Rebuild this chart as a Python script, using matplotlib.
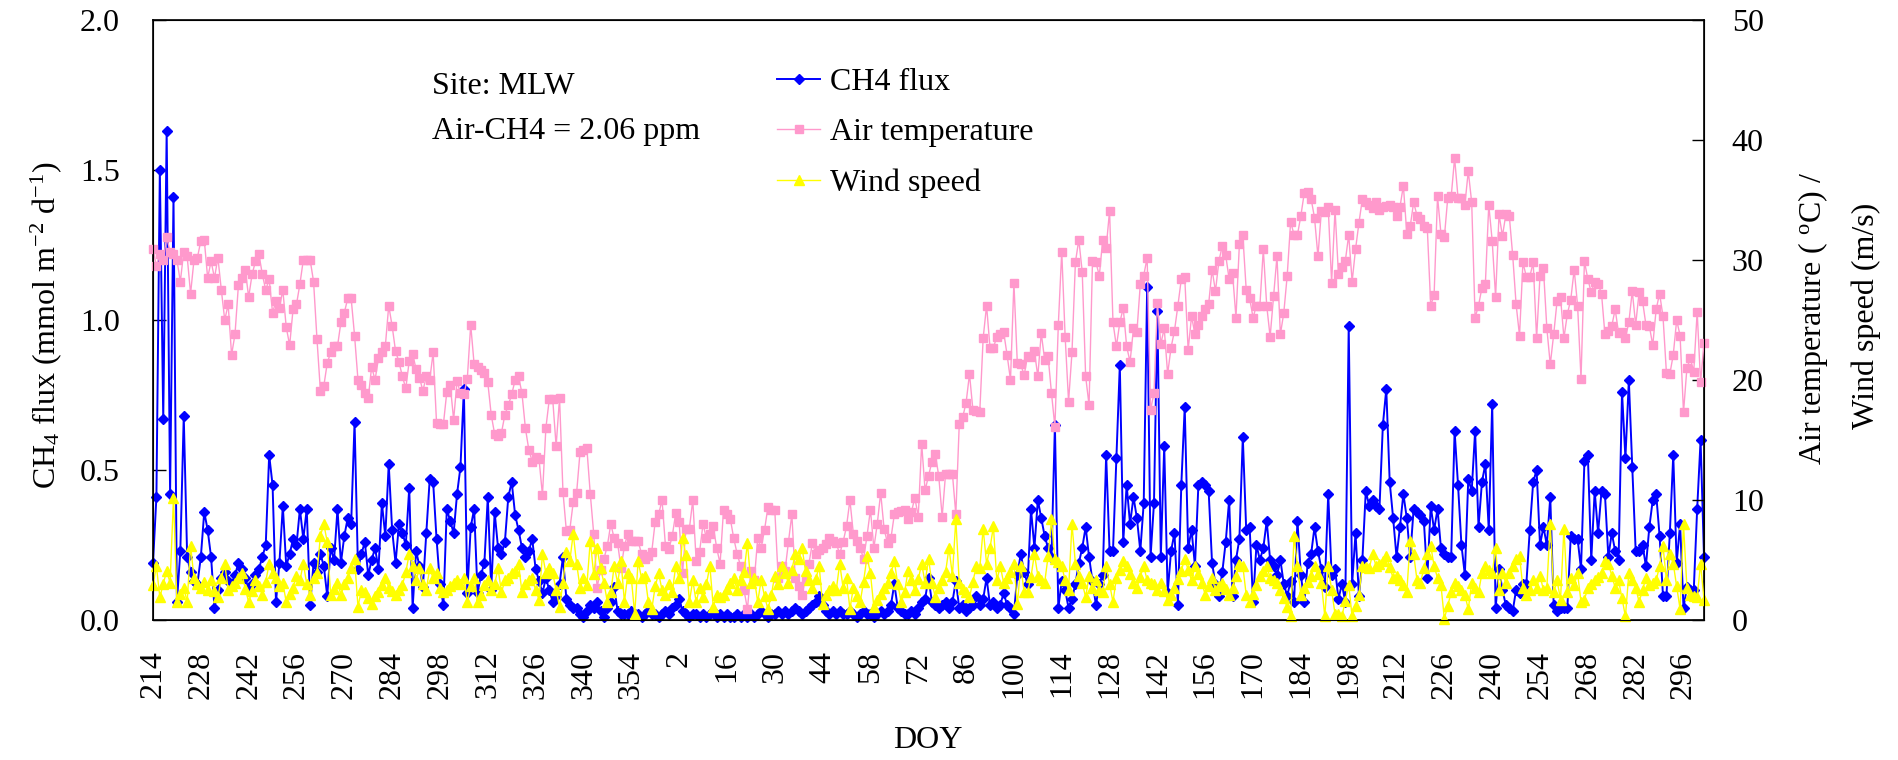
import numpy as np
import matplotlib.pyplot as plt
from matplotlib.lines import Line2D

plt.rcParams['font.family'] = 'Liberation Serif'
plt.rcParams['mathtext.fontset'] = 'custom'
plt.rcParams['mathtext.rm'] = 'Liberation Serif'
plt.rcParams['mathtext.it'] = 'Liberation Serif:italic'

# daily records, DOY 214 of the first year through DOY 302 of the next
doy = list(range(214, 367)) + list(range(1, 303))

# CH4 flux (mmol m-2 d-1)
ch4_flux = [
    0.19, 0.41, 1.50, 0.67, 1.63, 0.42, 1.41, 0.06, 0.23, 0.68, 0.21, 0.16, 0.13, 0.12,
    0.21, 0.36, 0.30, 0.21, 0.04, 0.10, 0.14, 0.16, 0.13, 0.12, 0.15, 0.19, 0.17, 0.14,
    0.10, 0.12, 0.15, 0.17, 0.21, 0.25, 0.55, 0.45, 0.06, 0.19, 0.38, 0.18, 0.22, 0.27,
    0.25, 0.37, 0.27, 0.37, 0.05, 0.19, 0.16, 0.22, 0.18, 0.08, 0.24, 0.20, 0.37, 0.19,
    0.28, 0.34, 0.32, 0.66, 0.17, 0.22, 0.26, 0.15, 0.20, 0.24, 0.17, 0.39, 0.28, 0.52,
    0.30, 0.19, 0.32, 0.29, 0.25, 0.44, 0.04, 0.23, 0.18, 0.11, 0.29, 0.47, 0.46, 0.27,
    0.12, 0.05, 0.37, 0.33, 0.29, 0.42, 0.51, 0.77, 0.09, 0.31, 0.37, 0.09, 0.15, 0.19,
    0.41, 0.10, 0.36, 0.24, 0.22, 0.26, 0.41, 0.46, 0.35, 0.30, 0.24, 0.21, 0.23, 0.27,
    0.17, 0.13, 0.09, 0.14, 0.10, 0.06, 0.08, 0.12, 0.21, 0.07, 0.05, 0.04, 0.04, 0.02,
    0.01, 0.03, 0.05, 0.04, 0.06, 0.03, 0.01, 0.04, 0.06, 0.11, 0.03, 0.02, 0.02, 0.02,
    0.03, 0.02, 0.02, 0.01, 0.02, 0.03, 0.02, 0.02, 0.01, 0.02, 0.03, 0.02, 0.04, 0.05,
    0.07, 0.03, 0.02, 0.01, 0.02, 0.02, 0.01, 0.02, 0.01, 0.02, 0.03, 0.01, 0.02, 0.01,
    0.02, 0.01, 0.01, 0.02, 0.01, 0.02, 0.01, 0.02, 0.01, 0.02, 0.03, 0.02, 0.01, 0.02,
    0.02, 0.03, 0.02, 0.03, 0.02, 0.03, 0.04, 0.03, 0.02, 0.03, 0.04, 0.05, 0.06, 0.08,
    0.05, 0.03, 0.02, 0.03, 0.02, 0.03, 0.02, 0.02, 0.03, 0.02, 0.01, 0.02, 0.03, 0.02,
    0.02, 0.01, 0.02, 0.03, 0.02, 0.03, 0.05, 0.12, 0.04, 0.03, 0.02, 0.02, 0.03, 0.02,
    0.04, 0.06, 0.07, 0.14, 0.06, 0.05, 0.04, 0.05, 0.06, 0.04, 0.06, 0.13, 0.04, 0.05,
    0.03, 0.04, 0.05, 0.08, 0.05, 0.07, 0.14, 0.05, 0.06, 0.04, 0.05, 0.09, 0.05, 0.04,
    0.02, 0.15, 0.22, 0.16, 0.12, 0.37, 0.24, 0.40, 0.34, 0.28, 0.24, 0.21, 0.65, 0.04,
    0.13, 0.10, 0.04, 0.07, 0.12, 0.19, 0.24, 0.31, 0.21, 0.13, 0.05, 0.12, 0.15, 0.55,
    0.23, 0.23, 0.54, 0.85, 0.26, 0.45, 0.32, 0.41, 0.34, 0.23, 0.39, 1.11, 0.21, 0.39,
    1.03, 0.21, 0.58, 0.09, 0.23, 0.29, 0.05, 0.45, 0.71, 0.24, 0.30, 0.18, 0.45, 0.46,
    0.45, 0.43, 0.19, 0.12, 0.08, 0.16, 0.26, 0.40, 0.08, 0.20, 0.27, 0.61, 0.30, 0.31,
    0.06, 0.25, 0.20, 0.24, 0.33, 0.20, 0.18, 0.15, 0.20, 0.12, 0.08, 0.13, 0.06, 0.33,
    0.15, 0.06, 0.19, 0.22, 0.31, 0.23, 0.17, 0.11, 0.42, 0.15, 0.17, 0.07, 0.12, 0.06,
    0.98, 0.12, 0.29, 0.08, 0.20, 0.43, 0.38, 0.40, 0.38, 0.37, 0.65, 0.77, 0.46, 0.34,
    0.21, 0.31, 0.42, 0.34, 0.21, 0.37, 0.36, 0.35, 0.33, 0.14, 0.38, 0.30, 0.37, 0.24,
    0.22, 0.21, 0.21, 0.63, 0.45, 0.25, 0.15, 0.47, 0.43, 0.63, 0.31, 0.46, 0.52, 0.30,
    0.72, 0.04, 0.17, 0.10, 0.05, 0.04, 0.03, 0.10, 0.09, 0.12, 0.12, 0.30, 0.46, 0.50,
    0.25, 0.31, 0.25, 0.41, 0.05, 0.03, 0.04, 0.04, 0.04, 0.28, 0.27, 0.27, 0.17, 0.53,
    0.55, 0.20, 0.43, 0.29, 0.43, 0.42, 0.21, 0.29, 0.23, 0.20, 0.76, 0.54, 0.80, 0.51,
    0.23, 0.23, 0.25, 0.18, 0.31, 0.40, 0.42, 0.28, 0.08, 0.08, 0.29, 0.55, 0.19, 0.32,
    0.04, 0.11, 0.10, 0.10, 0.37, 0.60, 0.21,
]

# air temperature (deg C)
air_temp = [
    30.9, 29.5, 30.5, 30.0, 31.9, 30.7, 30.5, 30.0, 28.2, 30.7, 30.3, 27.2, 30.0, 30.2,
    31.6, 31.7, 28.5, 29.9, 28.5, 30.2, 27.5, 25.0, 26.3, 22.1, 23.8, 27.9, 28.5, 29.2,
    26.9, 28.8, 29.9, 30.5, 28.8, 27.5, 28.4, 25.6, 26.6, 26.0, 27.5, 24.4, 22.9, 25.9,
    26.3, 28.0, 30.0, 30.0, 30.0, 28.2, 23.4, 19.1, 19.5, 21.4, 22.3, 22.8, 22.8, 24.8,
    25.6, 26.8, 26.8, 23.7, 20.0, 19.6, 18.9, 18.5, 21.1, 20.0, 21.8, 22.3, 22.8, 26.2,
    24.5, 22.4, 21.5, 20.3, 19.3, 21.6, 22.2, 20.9, 20.2, 19.1, 20.3, 20.0, 22.3, 16.4,
    16.3, 16.3, 19.0, 19.6, 16.7, 19.9, 18.9, 18.8, 20.1, 24.6, 21.3, 21.1, 20.8, 20.6,
    19.8, 17.1, 15.5, 15.3, 15.6, 17.1, 17.9, 18.8, 20.0, 20.3, 18.9, 16.0, 14.2, 13.2,
    13.6, 13.4, 10.4, 16.0, 18.4, 18.4, 14.5, 18.5, 10.7, 7.4, 7.5, 9.8, 10.6, 14.0,
    14.2, 14.3, 10.5, 7.2, 2.7, 4.2, 5.1, 6.2, 8.0, 6.8, 6.4, 4.3, 6.2, 7.2,
    6.6, 6.6, 6.6, 5.5, 5.1, 5.3, 5.7, 8.2, 8.8, 10.0, 6.2, 5.9, 7.0, 8.9,
    8.2, 3.9, 7.6, 7.6, 10.0, 4.9, 5.7, 8.0, 6.8, 7.2, 7.8, 6.0, 4.7, 9.2,
    8.8, 8.4, 6.8, 5.5, 4.5, 2.5, 0.9, 4.1, 3.3, 6.8, 6.0, 7.5, 9.4, 9.2,
    9.2, 3.5, 4.5, 4.1, 6.5, 8.8, 3.5, 2.8, 2.1, 3.5, 4.7, 6.4, 5.5, 5.8,
    6.0, 6.3, 6.8, 6.6, 6.4, 5.5, 6.5, 7.8, 10.0, 7.2, 6.6, 6.0, 5.1, 7.0,
    9.2, 6.0, 8.0, 10.6, 7.6, 6.4, 6.8, 8.8, 9.0, 9.1, 9.2, 8.4, 9.0, 10.2,
    8.6, 14.7, 10.8, 12.0, 13.2, 13.8, 12.0, 8.6, 12.2, 12.2, 12.2, 8.8, 16.3, 16.9,
    18.1, 20.5, 17.5, 17.4, 17.3, 23.5, 26.2, 22.7, 22.7, 23.6, 23.8, 24.0, 22.1, 20.0,
    28.1, 21.4, 21.3, 20.4, 22.0, 21.9, 22.4, 20.3, 23.9, 21.7, 22.0, 18.9, 16.1, 24.6,
    30.7, 23.6, 18.2, 22.3, 29.8, 31.7, 29.0, 20.3, 17.9, 29.9, 29.8, 28.7, 31.7, 31.0,
    34.1, 24.8, 22.8, 24.8, 26.0, 22.8, 21.5, 24.3, 24.0, 28.0, 28.7, 30.2, 17.5, 18.9,
    26.4, 23.0, 24.3, 20.5, 22.7, 24.1, 26.2, 28.4, 28.6, 22.5, 25.3, 23.8, 24.6, 25.3,
    25.9, 26.3, 29.2, 27.4, 29.9, 31.2, 30.4, 28.4, 28.9, 25.2, 31.3, 32.1, 27.5, 26.8,
    25.2, 26.2, 26.2, 30.9, 26.2, 23.6, 27.0, 30.3, 23.8, 25.6, 28.7, 33.2, 32.1, 32.1,
    33.7, 35.6, 35.7, 35.1, 33.5, 30.3, 34.1, 34.0, 34.4, 28.1, 34.2, 28.8, 29.4, 29.9,
    32.1, 28.2, 30.9, 33.1, 35.1, 34.8, 34.6, 34.3, 34.8, 34.2, 34.4, 34.5, 34.6, 34.4,
    33.7, 34.4, 36.2, 32.2, 32.8, 34.8, 33.7, 33.4, 32.8, 32.7, 26.2, 27.1, 35.3, 32.2,
    31.9, 35.2, 35.3, 38.5, 35.2, 35.2, 34.6, 37.4, 34.8, 25.2, 26.2, 27.7, 28.0, 34.6,
    31.6, 26.9, 33.8, 32.0, 33.8, 33.7, 30.4, 26.3, 23.7, 29.8, 28.6, 28.6, 29.8, 23.5,
    28.7, 29.3, 24.3, 21.3, 23.8, 26.6, 26.9, 23.5, 25.5, 26.7, 29.2, 26.2, 20.1, 29.9,
    28.4, 27.3, 28.2, 28.0, 27.2, 23.8, 24.1, 24.5, 25.9, 23.9, 24.0, 23.5, 24.8, 27.4,
    24.6, 27.3, 26.6, 24.6, 24.5, 22.9, 25.9, 27.2, 25.3, 20.6, 20.5, 22.1, 25.0, 23.7,
    17.3, 21.0, 21.8, 20.7, 25.7, 19.8, 23.1,
]

# wind speed (m/s)
wind_speed = [
    2.9, 4.5, 1.9, 3.0, 4.1, 3.1, 10.2, 1.5, 2.2, 2.7, 1.5, 6.2, 3.5, 3.0,
    2.7, 3.2, 2.5, 3.3, 2.4, 1.9, 3.5, 4.7, 2.5, 2.8, 3.1, 3.5, 3.9, 2.6,
    1.5, 2.4, 3.3, 2.8, 2.1, 3.2, 4.7, 3.9, 3.5, 2.8, 3.1, 1.5, 2.2, 2.7,
    3.7, 3.3, 4.7, 3.0, 2.1, 3.5, 3.9, 7.0, 8.0, 6.5, 2.1, 2.6, 3.1, 2.1,
    3.0, 3.5, 4.3, 5.1, 1.1, 2.5, 2.3, 1.8, 1.3, 2.0, 2.3, 2.9, 3.5, 2.7,
    2.4, 2.1, 2.5, 2.9, 4.0, 5.5, 4.5, 3.3, 4.3, 3.0, 2.5, 4.3, 3.5, 3.9,
    2.7, 2.3, 2.5, 2.8, 3.1, 3.3, 3.0, 3.5, 1.5, 2.8, 3.5, 1.5, 2.1, 2.9,
    3.3, 2.5, 3.0, 4.3, 2.3, 3.3, 3.5, 3.9, 4.1, 4.7, 2.3, 3.0, 3.3, 3.5,
    2.5, 1.7, 5.5, 3.9, 4.3, 3.9, 2.5, 1.1, 3.1, 5.7, 4.9, 7.2, 4.7, 2.7,
    3.5, 2.9, 6.6, 3.8, 6.0, 4.3, 3.1, 1.5, 2.3, 4.5, 3.1, 4.9, 1.5, 3.9,
    3.5, 0.5, 4.9, 3.5, 3.7, 1.5, 0.9, 2.8, 3.9, 2.5, 2.1, 3.0, 2.3, 4.5,
    3.5, 6.8, 5.4, 1.5, 3.3, 1.5, 2.7, 1.9, 3.0, 4.5, 1.1, 2.1, 1.9, 2.1,
    2.6, 3.1, 3.5, 2.5, 3.3, 4.0, 6.4, 3.1, 3.5, 1.5, 3.3, 2.0, 0.9, 2.1,
    3.7, 3.0, 4.5, 3.9, 3.1, 4.2, 5.5, 5.1, 6.0, 4.1, 3.3, 2.7, 3.4, 4.5,
    1.3, 2.1, 2.5, 2.8, 2.5, 4.7, 2.7, 3.5, 0.9, 2.7, 2.0, 1.5, 3.2, 5.3,
    3.9, 1.1, 1.7, 2.2, 2.7, 3.1, 3.9, 4.9, 3.0, 1.5, 2.3, 4.1, 3.3, 2.5,
    3.4, 4.7, 3.1, 5.1, 3.1, 1.9, 2.7, 3.3, 4.0, 6.0, 3.7, 8.4, 3.1, 2.6,
    2.3, 1.9, 3.2, 4.5, 4.3, 7.6, 4.7, 6.0, 7.8, 3.3, 4.5, 3.1, 3.5, 4.0,
    4.7, 1.3, 4.5, 2.3, 2.3, 3.6, 5.5, 3.7, 3.3, 3.1, 5.3, 8.4, 5.1, 4.8,
    4.5, 3.3, 2.5, 8.0, 4.7, 3.7, 3.1, 1.9, 3.7, 2.7, 3.3, 2.5, 2.3, 4.5,
    3.0, 1.5, 3.5, 4.2, 4.9, 4.5, 3.8, 3.1, 2.7, 3.6, 4.5, 3.3, 3.1, 3.0,
    2.5, 3.1, 2.4, 1.7, 2.1, 2.7, 3.4, 4.1, 5.1, 4.2, 3.3, 4.5, 3.8, 3.1,
    2.1, 2.8, 3.5, 2.5, 2.8, 3.1, 2.6, 2.1, 2.7, 3.7, 4.7, 4.5, 2.1, 1.5,
    2.2, 2.9, 3.7, 4.1, 4.5, 3.5, 3.3, 3.1, 2.5, 1.8, 1.1, 0.3, 7.0, 4.5,
    2.1, 2.7, 3.2, 3.7, 4.5, 3.8, 3.1, 0.3, 4.5, 2.5, 0.5, 0.5, 0.3, 1.6,
    2.9, 0.3, 1.2, 2.1, 4.5, 4.4, 4.3, 5.5, 4.5, 4.7, 4.9, 5.3, 4.4, 3.5,
    3.7, 3.3, 2.9, 2.3, 6.6, 5.5, 3.3, 3.1, 4.3, 5.5, 6.2, 4.5, 3.5, 2.9,
    0.1, 1.2, 2.3, 3.1, 2.8, 2.5, 2.1, 0.9, 3.1, 2.7, 2.3, 3.9, 4.5, 4.2,
    3.9, 6.0, 2.5, 3.9, 3.1, 3.9, 4.5, 5.1, 5.3, 2.7, 2.1, 2.5, 3.3, 2.7,
    3.7, 2.5, 2.7, 8.0, 2.3, 3.3, 1.7, 7.6, 2.3, 3.5, 2.9, 3.9, 1.5, 1.7,
    2.7, 3.0, 3.3, 3.6, 3.9, 4.9, 4.7, 3.7, 2.7, 3.3, 1.8, 0.3, 3.9, 3.3,
    2.7, 1.5, 2.5, 3.5, 2.9, 3.1, 3.3, 4.5, 6.2, 3.3, 5.5, 4.7, 2.8, 0.9,
    8.0, 2.7, 2.1, 2.0, 1.9, 4.7, 1.7,
]

x = np.arange(len(doy))
tick_pos = x[::14]
tick_labels = [str(doy[i]) for i in tick_pos]

W, H = 1899, 760
fig = plt.figure(figsize=(W / 100, H / 100), dpi=100)
ax = fig.add_axes([153 / W, 140 / H, (1704 - 153) / W, 600 / H])

# flux on the left axis
ax.plot(x, ch4_flux, color='#0000FF', lw=1.4, marker='D', ms=5.5,
        clip_on=False, zorder=2)
ax.set_xlim(0, len(doy) - 1)
ax.set_ylim(0, 2.0)
ax.set_yticks(np.arange(0, 2.01, 0.5))
ax.yaxis.set_major_formatter('{x:.1f}')
ax.set_xticks(tick_pos, tick_labels, rotation=90)
ax.tick_params(axis='y', direction='in', length=9, width=1, labelsize=23, pad=24)
ax.tick_params(axis='x', length=0, labelsize=23, pad=22)
for s in ax.spines.values():
    s.set_linewidth(1.2)

# temperature and wind on the right axis
ax2 = ax.twinx()
ax2.plot(x, air_temp, color='#FF99CC', lw=1.0, marker='s', ms=6.3,
         clip_on=False)
ax2.plot(x, wind_speed, color='#FFFF00', lw=1.0, marker='^', ms=6.5,
         clip_on=False)
ax2.set_ylim(0, 50)
ax2.set_yticks(np.arange(0, 51, 10))
ax2.tick_params(axis='y', direction='in', length=9, width=1, labelsize=23, pad=20)

fig.text(46 / W, 1 - 325 / H, r'CH$_{\mathrm{4}}$ flux (mmol m$^{-2}$ d$^{-1}$)',
         rotation=90, ha='center', va='center', fontsize=23)
fig.text(1813 / W, 1 - 318 / H, r'Air temperature ( $^{\mathrm{o}}$C) /',
         rotation=90, ha='center', va='center', fontsize=23)
fig.text(1866 / W, 1 - 316 / H, 'Wind speed (m/s)',
         rotation=90, ha='center', va='center', fontsize=23)
fig.text(928 / W, 1 - 741 / H, 'DOY', ha='center', va='center', fontsize=23)

fig.text(432 / W, 1 - 87 / H, 'Site: MLW', ha='left', va='center', fontsize=23)
fig.text(432 / W, 1 - 132 / H, 'Air-CH4 = 2.06 ppm', ha='left', va='center', fontsize=23)

handles = [
    Line2D([], [], color='#0000FF', lw=1.4, marker='D', ms=5),
    Line2D([], [], color='#FF99CC', lw=1.0, marker='s', ms=6.3),
    Line2D([], [], color='#FFFF00', lw=1.0, marker='^', ms=6.5),
]
ax2.legend(handles, ['CH4 flux', 'Air temperature', 'Wind speed'],
           loc='upper left', bbox_to_anchor=(777 / W, 1 - 68 / H),
           bbox_transform=fig.transFigure, frameon=False, fontsize=23,
           handlelength=1.35, handletextpad=0.3, labelspacing=0.65,
           borderpad=0, borderaxespad=0, numpoints=1)

fig.savefig('out.png', dpi=100)
